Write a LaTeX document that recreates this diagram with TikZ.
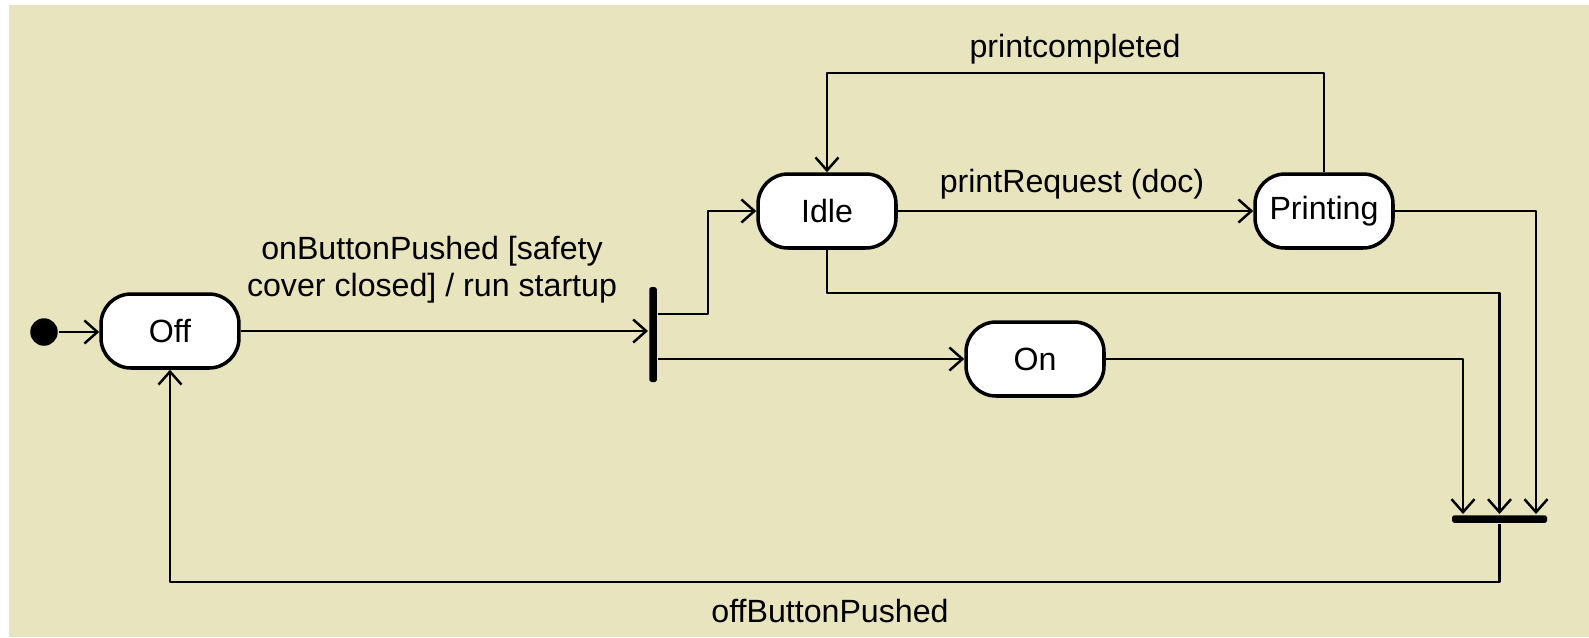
\documentclass[tikz,border=0pt]{standalone}
\usepackage{fontspec}
\setmainfont{Liberation Sans}
\usetikzlibrary{arrows.meta}
\definecolor{bgbeige}{RGB}{232,228,190}
\begin{document}
\begin{tikzpicture}[x=0.02cm,y=-0.02cm,>={Straight Barb[length=0.26cm,width=0.46cm]},
	font=\fontsize{18.3}{21}\selectfont, line width=1.4pt, line join=round,
	state/.style={draw, line width=2pt, fill=white, rounded corners=0.6cm, minimum width=2.76cm, minimum height=1.48cm, inner sep=0pt},
	bar/.style={fill=black, inner sep=0pt, rounded corners=1pt},
	lbl/.style={inner sep=0pt, align=center}]
	\useasboundingbox (0,0) rectangle (1589,637);
	\fill[white] (0,0) rectangle (1589,637);
	\fill[bgbeige] (9,5) rectangle (1589,637);
	% states
	\node[circle, fill=black, minimum size=0.55cm, inner sep=0pt] (init) at (44,332) {};
	\node[state] (off) at (170,331) {Off};
	\node[state] (idle) at (827,211) {Idle};
	\node[state] (printing) at (1324,211) {Printing};
	\node[state] (on) at (1035,359) {On};
	\node[bar, minimum width=0.15cm, minimum height=1.9cm] (fork) at (653,334.5) {};
	\node[bar, minimum width=1.9cm, minimum height=0.15cm] (join) at (1499.5,519) {};
	% transitions
	\draw[->] (init.east) -- (init.east -| off.west);
	\draw[->] (off.east) -- (off.east -| fork.west);
	\draw[->] ([yshift=0.41cm]fork.east) -- ++(50,0) |- (idle.west);
	\draw[->] (fork.east |- on.west) -- (on.west);
	\draw[->] (idle) -- (printing);
	\draw[->] (printing.north) -- ++(0,-99) -| (idle.north);
	\draw[->] (idle.south) -- ++(0,43) -| (join.north);
	\draw[->] (printing.east) -| ([xshift=0.73cm]join.north);
	\draw[->] (on.east) -| ([xshift=-0.73cm]join.north);
	\draw[->] (join.south) -- ++(0,58) -| (off.south);
	% labels
	\node[lbl] (lonbutton) at (432,270) {onButtonPushed [safety\\cover closed] / run startup};
	\node[lbl] (lprintreq) at (1072,184) {printRequest (doc)};
	\node[lbl] (lprintdone) at (1075,49) {printcompleted};
	\node[lbl] (loffbutton) at (830,611) {offButtonPushed};
\end{tikzpicture}
\end{document}
